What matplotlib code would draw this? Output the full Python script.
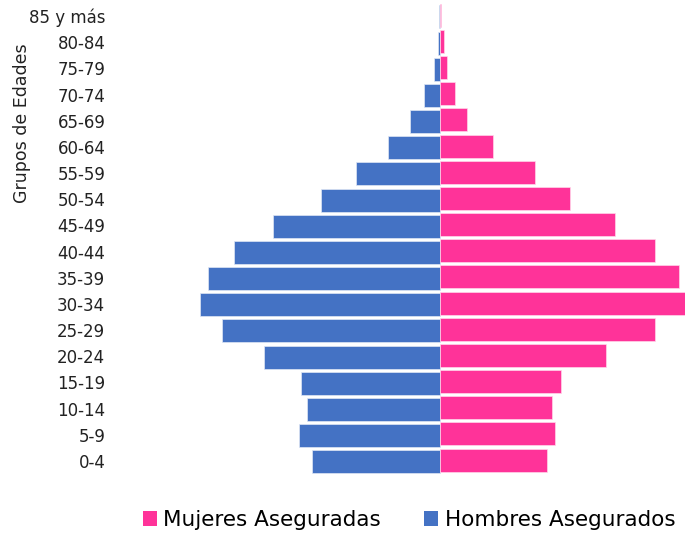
import matplotlib
matplotlib.use("Agg")
import matplotlib.pyplot as plt
from matplotlib.patches import Patch
import numpy as np

plt.rcParams['font.family'] = ['DejaVu Sans']

grupos = ["0-4", "5-9", "10-14", "15-19", "20-24", "25-29", "30-34", "35-39",
          "40-44", "45-49", "50-54", "55-59", "60-64", "65-69", "70-74",
          "75-79", "80-84", "85 y más"]
hombres = [128, 141, 133, 139, 176, 218, 240, 232, 206, 167, 119, 84, 52, 30, 16, 6, 2.5, 1.5]
mujeres = [107, 115, 112, 121, 166, 215, 246, 239, 215, 175, 130, 95, 53, 27, 15, 7.4, 3.7, 1.4]

azul = "#4472C4"
rosa = "#FF3399"

fig = plt.figure(figsize=(6.85, 5.33), dpi=100)
ax = fig.add_axes([115/685, 59/533, 571/685, 471/533])

y = np.arange(len(grupos))
ax.barh(y - 0.03, -np.array(hombres), height=0.88, color=azul,
        edgecolor="#dfe6f5", linewidth=0.5)
ax.barh(y + 0.03, mujeres, height=0.88, color=rosa,
        edgecolor="#ffd6ea", linewidth=0.5)

ax.set_xlim(-325, 246)
ax.set_ylim(-0.5, len(grupos) - 0.5)
ax.set_yticks(y)
ax.set_yticklabels(grupos, fontsize=12, color="#222222")
ax.tick_params(axis='y', length=0, pad=7)
ax.set_xticks([])
for s in ax.spines.values():
    s.set_visible(False)

fig.text(22/685, 1 - 123/533, "Grupos de Edades", rotation=90, fontsize=12.5,
         ha="center", va="center", color="#222222")

handles = [Patch(facecolor=rosa, label="Mujeres Aseguradas"),
           Patch(facecolor=azul, label="Hombres Asegurados")]
fig.legend(handles=handles, loc="center", bbox_to_anchor=(409/685, 1 - 520/533),
           ncol=2, frameon=False, fontsize=15.5, handlelength=0.65, handleheight=0.65,
           handletextpad=0.3, columnspacing=2.0)

fig.savefig("out.png", dpi=100)
